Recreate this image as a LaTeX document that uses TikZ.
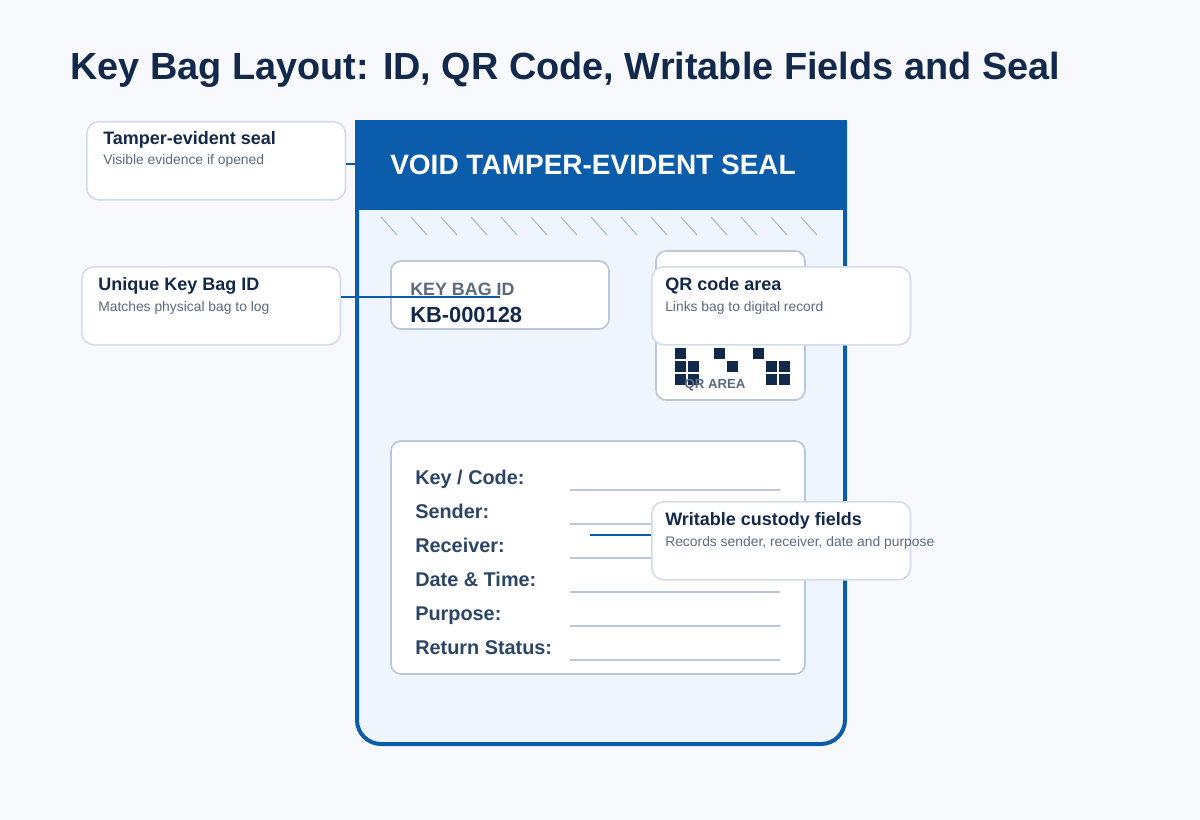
\documentclass[tikz,border=0pt]{standalone}
\usepackage{fontspec}
\setmainfont{Liberation Sans}
\usepackage{xcolor}
\usetikzlibrary{positioning}

\definecolor{pagebg}{HTML}{F7F9FC}
\definecolor{titleink}{HTML}{13294B}
\definecolor{sealblue}{HTML}{0B5CAB}
\definecolor{bagfill}{HTML}{EEF5FD}
\definecolor{boxline}{HTML}{B9C7D8}
\definecolor{fieldink}{HTML}{2B4566}
\definecolor{softink}{HTML}{5A6B80}
\definecolor{hatchink}{HTML}{9AB4CE}
\definecolor{callline}{HTML}{D3DDE8}

\begin{document}
\begin{tikzpicture}[
    x=0.75pt, y=-0.75pt,
    panel/.style={draw=boxline, line width=1.2pt, fill=white, rounded corners=7.5pt},
    callout/.style={draw=callline, line width=1.2pt, fill=white, rounded corners=9pt,
        anchor=north west, minimum width=194pt, minimum height=58.5pt, inner sep=0pt},
    calltitle/.style={anchor=base west, inner sep=0pt, text=titleink,
        font=\fontsize{13.5pt}{16pt}\selectfont\bfseries},
    callsub/.style={anchor=base west, inner sep=0pt, text=softink,
        font=\fontsize{10.4pt}{12pt}\selectfont},
    fieldlabel/.style={anchor=base west, inner sep=0pt, text=fieldink,
        font=\fontsize{14.9pt}{17pt}\selectfont\bfseries},
    writeline/.style={draw=boxline, line width=1.1pt},
    link/.style={draw=sealblue, line width=1.7pt},
    qrdot/.style={fill=titleink},
]
    % page and title
    \fill[pagebg] (0,0) rectangle (1200,820);
    \useasboundingbox (0,0) rectangle (1200,820);
    \node[anchor=base west, inner sep=0pt, text=titleink,
        font=\fontsize{28.4pt}{33pt}\selectfont\bfseries] (title) at (70,80)
        {Key Bag Layout: ID, QR Code, Writable Fields and Seal};

    % bag body
    \fill[bagfill, rounded corners=18pt] (357,121) -- (357,744) -- (845,744) -- (845,121) [sharp corners] -- cycle;
    \draw[sealblue, line width=3pt, rounded corners=18pt] (357,121) -- (357,744) -- (845,744) -- (845,121);
    \fill[sealblue] (355,120) rectangle (847,210);
    \node[anchor=base west, inner sep=0pt, text=white,
        font=\fontsize{21pt}{25pt}\selectfont\bfseries] (sealtext) at (390,175)
        {VOID TAMPER-EVIDENT SEAL};

    % tear marks under the seal
    \foreach \i in {0,...,14}
        \draw[hatchink, line width=0.7pt] (381+30*\i,217) -- (397+30*\i,235);

    % key bag id panel
    \draw[panel] (391,261) rectangle (609,329);
    \node[anchor=base west, inner sep=0pt, text=softink,
        font=\fontsize{13.4pt}{16pt}\selectfont\bfseries] (idlabel) at (410,295) {KEY BAG ID};
    \node[anchor=base west, inner sep=0pt, text=titleink,
        font=\fontsize{16.4pt}{19pt}\selectfont\bfseries] (idvalue) at (410,322) {KB-000128};

    % qr panel
    \draw[panel] (656,251) rectangle (805,400);
    \foreach \qx/\qy in {675/348, 714/348, 753/348,
                         675/361, 688/361, 727/361, 766/361, 779/361,
                         675/374, 688/374, 766/374, 779/374}
        \fill[qrdot] (\qx,\qy) rectangle ++(11,11);
    \node[anchor=base, inner sep=0pt, text=softink,
        font=\fontsize{9.9pt}{12pt}\selectfont\bfseries] (qrlabel) at (715,388) {QR AREA};

    % custody fields panel
    \draw[panel] (391,441) rectangle (805,674);
    \foreach \lbl [count=\n from 0] in {Key / Code:, Sender:, Receiver:, Date \& Time:, Purpose:, Return Status:} {
        \node[fieldlabel] (field\n) at (415,484+34*\n) {\lbl};
        \draw[writeline] (570,490+34*\n) -- (780,490+34*\n);
    }

    % leader ends
    \coordinate (sealend) at (357,164);
    \coordinate (idend) at (500,297);
    \coordinate (fieldend) at (590,535);

    % callouts
    \node[callout] (sealnote) at (86,121) {};
    \node[calltitle] at (103,145) {Tamper-evident seal};
    \node[callsub] at (103,165) {Visible evidence if opened};
    \draw[link] (sealnote.east |- sealend) -- (sealend);

    \node[callout] (idnote) at (81,266) {};
    \node[calltitle] at (98,290) {Unique Key Bag ID};
    \node[callsub] at (98,311) {Matches physical bag to log};
    \draw[link] (idnote.east |- idend) -- (idend);

    \node[callout] (qrnote) at (651,266) {};
    \node[calltitle] at (665,290) {QR code area};
    \node[callsub] at (665,311) {Links bag to digital record};

    \node[callout] (fieldnote) at (651,501) {};
    \node[calltitle] at (665,525) {Writable custody fields};
    \node[callsub] at (665,546) {Records sender, receiver, date and purpose};
    \draw[link] (fieldend) -- (fieldnote.west |- fieldend);
\end{tikzpicture}
\end{document}
